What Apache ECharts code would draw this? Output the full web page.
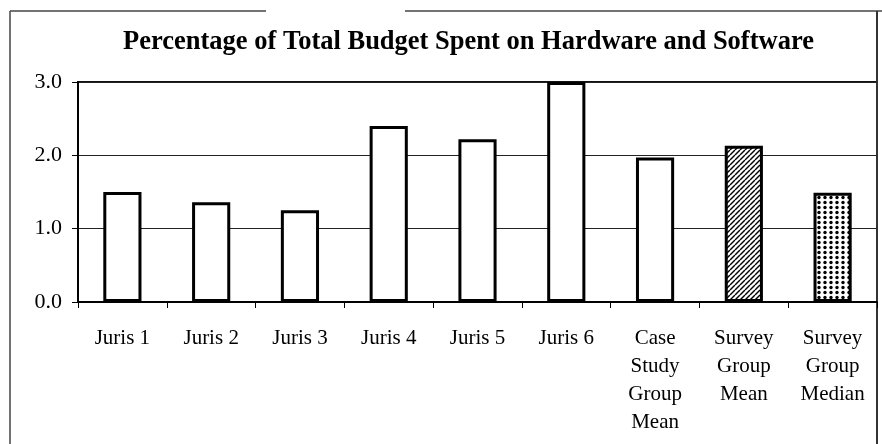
<!DOCTYPE html>
<html>
<head>
<meta charset="utf-8">
<script src="https://cdn.jsdelivr.net/npm/echarts@6/dist/echarts.min.js"></script>
<style>
  html, body { margin: 0; padding: 0; background: #fff; }
  #main { width: 882px; height: 444px; }
</style>
</head>
<body>
<div id="main"></div>
<script>
const categories = ['Juris 1', 'Juris 2', 'Juris 3', 'Juris 4', 'Juris 5', 'Juris 6',
  'Case\nStudy\nGroup\nMean', 'Survey\nGroup\nMean', 'Survey\nGroup\nMedian'];
const values = [1.50, 1.36, 1.25, 2.40, 2.22, 3.00, 1.97, 2.13, 1.49];
const fills = ['plain', 'plain', 'plain', 'plain', 'plain', 'plain', 'plain', 'hatch', 'dots'];

const serif = "'Liberation Serif', 'Times New Roman', serif";

// small canvas tiles for the patterned bars
function hatchTile() {
  const c = document.createElement('canvas');
  c.width = 5; c.height = 5;
  const g = c.getContext('2d');
  g.fillStyle = '#fff';
  g.fillRect(0, 0, 5, 5);
  g.strokeStyle = '#000';
  g.lineWidth = 1.4;
  for (let k = -5; k <= 5; k += 5) {
    g.beginPath();
    g.moveTo(k, 5);
    g.lineTo(k + 5, 0);
    g.stroke();
  }
  return c;
}
function dotTile() {
  const c = document.createElement('canvas');
  c.width = 6; c.height = 5;
  const g = c.getContext('2d');
  g.fillStyle = '#fff';
  g.fillRect(0, 0, 6, 5);
  g.fillStyle = '#000';
  g.beginPath();
  g.arc(3, 2.5, 1.7, 0, Math.PI * 2);
  g.fill();
  return c;
}

function fillFor(kind) {
  if (kind === 'hatch') return { image: hatchTile(), repeat: 'repeat' };
  if (kind === 'dots') return { image: dotTile(), repeat: 'repeat' };
  return '#fff';
}

const chart = echarts.init(document.getElementById('main'));

chart.setOption({
  animation: false,
  backgroundColor: '#fff',
  title: {
    text: 'Percentage of Total Budget Spent on Hardware and Software',
    left: 118,
    top: 24,
    textStyle: { fontFamily: serif, fontWeight: 'bold', fontSize: 26.5, color: '#000' }
  },
  grid: {
    left: 78, right: 5, top: 82, bottom: 142,
    show: true, borderColor: '#111', borderWidth: 2, backgroundColor: 'transparent'
  },
  xAxis: {
    type: 'category',
    data: categories,
    axisLine: { lineStyle: { color: '#000', width: 2 } },
    axisTick: { show: true, length: 6, lineStyle: { color: '#000', width: 1 } },
    axisLabel: {
      fontFamily: serif, fontSize: 21, color: '#000', lineHeight: 28,
      margin: 22, interval: 0
    }
  },
  yAxis: {
    type: 'value',
    min: 0, max: 3, interval: 1,
    axisLine: { show: true, lineStyle: { color: '#000', width: 2 } },
    axisTick: { show: true, length: 6, lineStyle: { color: '#000', width: 1 } },
    axisLabel: {
      fontFamily: serif, fontSize: 22, color: '#000', margin: 16,
      formatter: v => v.toFixed(1)
    },
    splitLine: { show: true, lineStyle: { color: '#222', width: 1 } }
  },
  series: [{
    type: 'bar',
    barCategoryGap: '57%',
    data: values.map((v, i) => ({
      value: v,
      itemStyle: { color: fillFor(fills[i]) }
    })),
    itemStyle: { borderColor: '#000', borderWidth: 3 }
  }],
  graphic: [
    { type: 'line', shape: { x1: 10, y1: 11, x2: 10, y2: 444 }, style: { stroke: '#444', lineWidth: 1.5 } },
    { type: 'line', shape: { x1: 10, y1: 11, x2: 266, y2: 11 }, style: { stroke: '#444', lineWidth: 1.5 } },
    { type: 'line', shape: { x1: 405, y1: 11, x2: 882, y2: 11 }, style: { stroke: '#444', lineWidth: 1.5 } },
    { type: 'line', shape: { x1: 877, y1: 11, x2: 877, y2: 444 }, style: { stroke: '#333', lineWidth: 2 } }
  ]
});
</script>
</body>
</html>
